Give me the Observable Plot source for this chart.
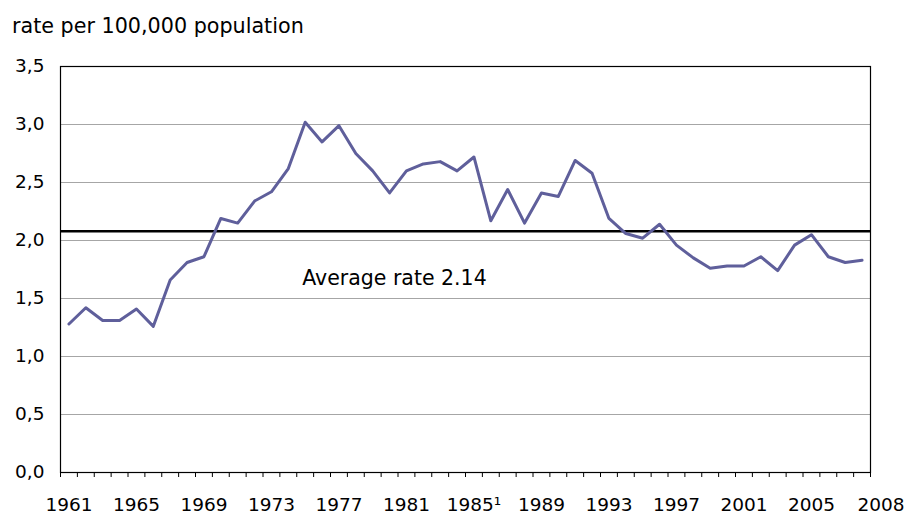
<!DOCTYPE html>
<html>
<head>
<meta charset="utf-8">
<script src="https://cdn.jsdelivr.net/npm/d3@7"></script>
<script src="https://cdn.jsdelivr.net/npm/@observablehq/plot@0.6"></script>
<style>
  html, body { margin: 0; padding: 0; background: #fff; }
  #wrap { position: relative; width: 912px; height: 514px; }
  #title { position: absolute; left: 12px; top: 16px; font: 20.7px "DejaVu Sans", Verdana, sans-serif; line-height: 20px; color: #000; white-space: nowrap; }
</style>
</head>
<body>
<div id="wrap">
  <div id="title">rate per 100,000 population</div>
</div>
<script>
const years = d3.range(1961, 2009);
const rates = [
  1.28, 1.42, 1.31, 1.31, 1.41, 1.26, 1.66, 1.81, 1.86, 2.19,
  2.15, 2.34, 2.42, 2.62, 3.02, 2.85, 2.99, 2.75, 2.60, 2.41,
  2.60, 2.66, 2.68, 2.60, 2.72, 2.17, 2.44, 2.15, 2.41, 2.38,
  2.69, 2.58, 2.19, 2.06, 2.02, 2.14, 1.96, 1.85, 1.76, 1.78,
  1.78, 1.86, 1.74, 1.96, 2.05, 1.86, 1.81, 1.83
];
const averageLineValue = 2.08;
const averageLabel = "Average rate 2.14";
const xTickLabels = [1961, 1965, 1969, 1973, 1977, 1981, 1985, 1989, 1993, 1997, 2001, 2005];
const lastLabel = "2008";
const yTicks = [0, 0.5, 1, 1.5, 2, 2.5, 3, 3.5];
const gridValues = [0.5, 1, 1.5, 2, 2.5, 3];

const data = years.map((y, i) => ({year: y, rate: rates[i]}));
const boundaries = d3.range(1960.5, 2009, 1);

const chart = Plot.plot({
  width: 912,
  height: 514,
  marginLeft: 60,
  marginRight: 42,
  marginTop: 66,
  marginBottom: 42,
  style: {fontFamily: "DejaVu Sans, Verdana, sans-serif", fontSize: "18.5px", color: "#000", background: "#fff"},
  x: {domain: [1960.5, 2008.5]},
  y: {domain: [0, 3.5]},
  marks: [
    Plot.gridY(gridValues, {stroke: "#a6a6a6", strokeOpacity: 1, strokeWidth: 1}),
    Plot.frame({stroke: "#000", strokeWidth: 1.2}),
    Plot.axisY(yTicks, {tickSize: 0, tickPadding: 16, tickFormat: d => d.toFixed(1).replace(".", ","), label: null, fontSize: 18.5}),
    Plot.axisX(boundaries, {tickSize: 5, tickFormat: () => "", label: null, stroke: "#000"}),
    Plot.axisX(xTickLabels, {tickSize: 0, tickPadding: 25, tickFormat: d => d === 1985 ? "1985¹" : String(d), label: null, fontSize: 18.5}),
    Plot.text([lastLabel], {x: () => 2008, frameAnchor: "bottom", dy: 38, dx: 19, text: d => d, fontSize: 18.5}),
    Plot.ruleY([averageLineValue], {stroke: "#000", strokeWidth: 2.5}),
    Plot.line(data, {x: "year", y: "rate", stroke: "#5f5f9b", strokeWidth: 3, strokeLinejoin: "round"}),
    Plot.text([averageLabel], {x: () => 1975, y: () => 1.67, text: d => d, textAnchor: "start", dx: -3, fontSize: 20.5})
  ]
});
document.getElementById("wrap").appendChild(chart);
</script>
</body>
</html>
